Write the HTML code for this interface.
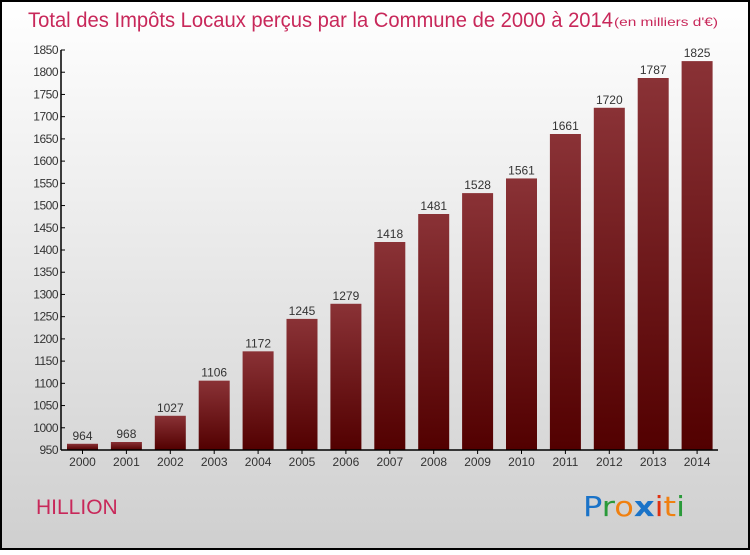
<!DOCTYPE html>
<html><head><meta charset="utf-8"><style>
html,body{margin:0;padding:0}
body{width:750px;height:550px;overflow:hidden;font-family:"Liberation Sans",sans-serif}
</style></head><body>
<svg id="chart" width="750" height="550" xmlns="http://www.w3.org/2000/svg">
<defs>
<linearGradient id="bg" x1="0" y1="0" x2="0" y2="1"><stop offset="0" stop-color="#ffffff"/><stop offset="1" stop-color="#cfcfcf"/></linearGradient>
<linearGradient id="bar" x1="0" y1="0" x2="0" y2="1"><stop offset="0" stop-color="#8a3236"/><stop offset="1" stop-color="#520000"/></linearGradient>
</defs>
<rect x="1" y="1" width="748" height="548" fill="url(#bg)" stroke="#000" stroke-width="2"/>
<text x="28" y="27" font-size="21" fill="#c8285a" textLength="585" lengthAdjust="spacingAndGlyphs">Total des Impôts Locaux perçus par la Commune de 2000 à 2014</text>
<text x="614" y="26" font-size="12" fill="#c8285a" textLength="104" lengthAdjust="spacingAndGlyphs">(en milliers d'€)</text>
<text x="36" y="514" font-size="21" fill="#c8285a">HILLION</text>
<g font-size="28" font-family="'DejaVu Sans',sans-serif">
<text x="583" y="516" textLength="102" lengthAdjust="spacingAndGlyphs"><tspan fill="#1a73c8">P</tspan><tspan fill="#2a9a3a">r</tspan><tspan fill="#f08010">o</tspan><tspan fill="#1a73c8" font-weight="bold">x</tspan><tspan fill="#e03010">i</tspan><tspan fill="#f08010">t</tspan><tspan fill="#2a9a3a">i</tspan></text>
</g>
<g id="plot"></g>
</svg>
<script>
const categories=["2000","2001","2002","2003","2004","2005","2006","2007","2008","2009","2010","2011","2012","2013","2014"];
const values=[964,968,1027,1106,1172,1245,1279,1418,1481,1528,1561,1661,1720,1787,1825];
const yTicks=[950,1000,1050,1100,1150,1200,1250,1300,1350,1400,1450,1500,1550,1600,1650,1700,1750,1800,1850];
const yMin=950,yMax=1850,y0=450,y1=50,axisX=61,x0=82.5,step=43.9,bw=31;
const ns="http://www.w3.org/2000/svg";
const g=document.getElementById('plot');
function y(v){return y0-(v-yMin)/(yMax-yMin)*(y0-y1);}
function xc(i){return x0+i*step;}
function mk(t,a,txt){const e=document.createElementNS(ns,t);for(const k in a)e.setAttribute(k,a[k]);if(txt!==undefined)e.textContent=txt;g.appendChild(e);return e;}
values.forEach((v,i)=>{
 const r=mk('rect',{x:xc(i)-bw/2,y:y(v),width:bw,height:y0-y(v),fill:'url(#bar)'});
 
 
 const t=mk('text',{x:xc(i),y:y(v)-4,'text-anchor':'middle','font-size':12,fill:'#333'},v);
 
 
 const c=mk('text',{x:xc(i),y:466,'text-anchor':'middle','font-size':12,fill:'#333'},categories[i]);
 
 
 const tk=mk('line',{x1:xc(i),x2:xc(i),y1:y0,y2:y0+4,stroke:'#000'});
 
 
});
yTicks.forEach(v=>{
 const t=mk('text',{x:axisX-3,y:y(v)+4,'text-anchor':'end','font-size':12,fill:'#333','letter-spacing':'-0.5'},v);
 
 
 const l=mk('line',{x1:axisX,x2:axisX+4,y1:y(v),y2:y(v),stroke:'#000'});
 
 
});
const ya=mk('line',{x1:axisX,x2:axisX,y1:y1,y2:y0,stroke:'#000','stroke-width':1.5});


const xa=mk('line',{x1:axisX,x2:718,y1:y0,y2:y0,stroke:'#000','stroke-width':1.5});


</script>
</body></html>
